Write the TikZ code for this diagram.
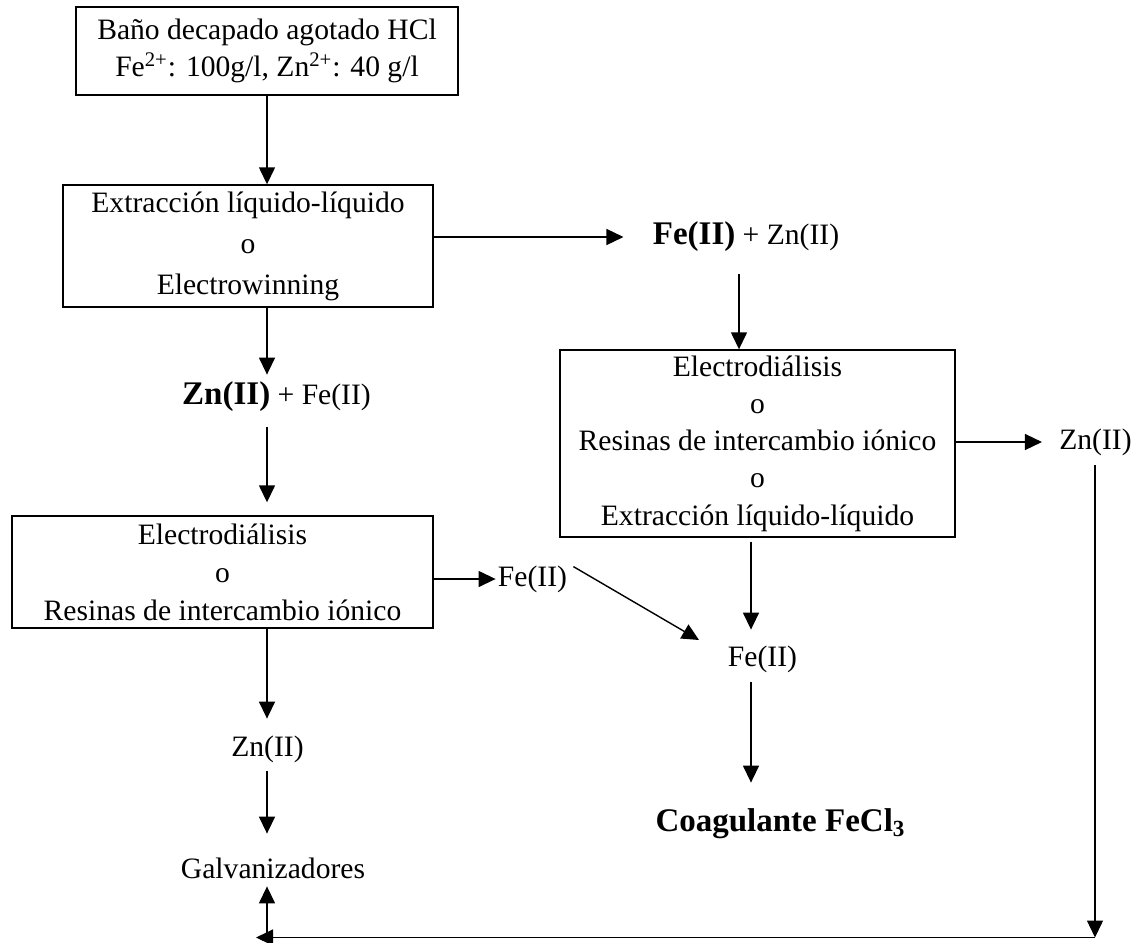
\documentclass[tikz,border=0pt]{standalone}
\usepackage{fontspec}
\setmainfont{Liberation Serif}
\usetikzlibrary{arrows.meta,calc}
\newcommand\bigb[1]{{\fontsize{16.5}{20}\selectfont\bfseries #1}}
\begin{document}
\begin{tikzpicture}[x=0.5pt,y=-0.5pt,
  every node/.style={font=\fontsize{14.8}{18.5}\selectfont},
  box/.style={draw, line width=0.7pt, inner sep=0pt, align=center},
  lbl/.style={inner sep=0pt, text height=10pt, text depth=3pt},
  arr/.style={line width=0.7pt, -{Triangle[length=8.5pt,width=8pt]}}]
\useasboundingbox (0,0) rectangle (1145,942);
% boxes
\node[box, minimum width=191pt, minimum height=44pt, font=\fontsize{14.8}{18.5}\selectfont] (b1) at (267,51)
  {\begin{tabular}{@{}c@{}}\rule{0pt}{12pt}Baño decapado agotado HCl\\Fe\textsuperscript{2+}: 100g/l, Zn\textsuperscript{2+}: 40 g/l\end{tabular}};
\node[box, minimum width=185pt, minimum height=61pt, font=\fontsize{14.8}{20.5}\selectfont] (b2) at (248,246)
  {Extracción líquido-líquido\\o\\Electrowinning};
\node[box, minimum width=210.5pt, minimum height=56pt, font=\fontsize{14.8}{19}\selectfont] (b3) at (222.5,572)
  {Electrodiálisis\\o\\Resinas de intercambio iónico};
\node[box, minimum width=197.5pt, minimum height=93.5pt, font=\fontsize{14.8}{18.6}\selectfont] (b4) at (757.5,443.5)
  {Electrodiálisis\\o\\Resinas de intercambio iónico\\o\\Extracción líquido-líquido};
% labels
\node[lbl] (fezn) at (746,237) {\bigb{Fe(II)} + Zn(II)};
\node[lbl] (znfe) at (276.5,397) {\bigb{Zn(II)} + Fe(II)};
\node[lbl] (zn1) at (1095.5,442) {Zn(II)};
\node[lbl] (fe1) at (532.5,579) {Fe(II)};
\node[lbl] (fe2) at (762.5,659) {Fe(II)};
\node[lbl] (zn2) at (267.5,749) {Zn(II)};
\node[lbl] (galv) at (273,871) {Galvanizadores};
\node[lbl] (coag) at (780.5,824) {\bigb{Coagulante FeCl\textsubscript{3}}};
% helper coordinates
\coordinate (cL) at (267,0);
\coordinate (cM1) at (739,0);
\coordinate (cM2) at (751,0);
\coordinate (cR) at (1095,0);
\coordinate (loopR) at (1095,937.5);
\coordinate (loopL) at (256,937.5);
% connectors
\draw[arr] (b1.south) -- (b1.south |- b2.north);
\draw[arr, shorten >=14.5pt] (b2.east |- fezn.center) -- (fezn.west);
\draw[arr, shorten >=4.5pt] (cL |- b2.south) -- (cL |- znfe.north);
\draw[arr, shorten <=8.5pt, shorten >=6.5pt] (cL |- znfe.south) -- (cL |- b3.north);
\draw[arr, shorten >=8.5pt] (cL |- b3.south) -- (cL |- zn2.north);
\draw[arr, shorten <=4.5pt, shorten >=12pt] (cL |- zn2.south) -- (cL |- galv.north);
\draw[arr, shorten >=1pt] (b3.east |- fe1.center) -- (fe1.west);
\draw[arr] ($(fe1.north east)+(6,1)$) -- ($(fe2.center)+(-63.5,-19)$);
\draw[arr, shorten <=12pt] (cM1 |- fezn.south) -- (cM1 |- b4.north);
\draw[arr, shorten >=8.5pt] (b4.east |- zn1.center) -- (zn1.west);
\draw[arr, shorten <=2pt, shorten >=8pt] (cM2 |- b4.south) -- (cM2 |- fe2.north);
\draw[arr, shorten <=5pt, shorten >=14pt] (cM2 |- fe2.south) -- (cM2 |- coag.north);
\draw[arr, shorten <=5pt] (cR |- zn1.south) -- (loopR);
\draw[arr] (loopR) -- (loopL);
\draw[arr, shorten >=1pt] (cL |- loopL) -- (cL |- galv.south);
\end{tikzpicture}
\end{document}
